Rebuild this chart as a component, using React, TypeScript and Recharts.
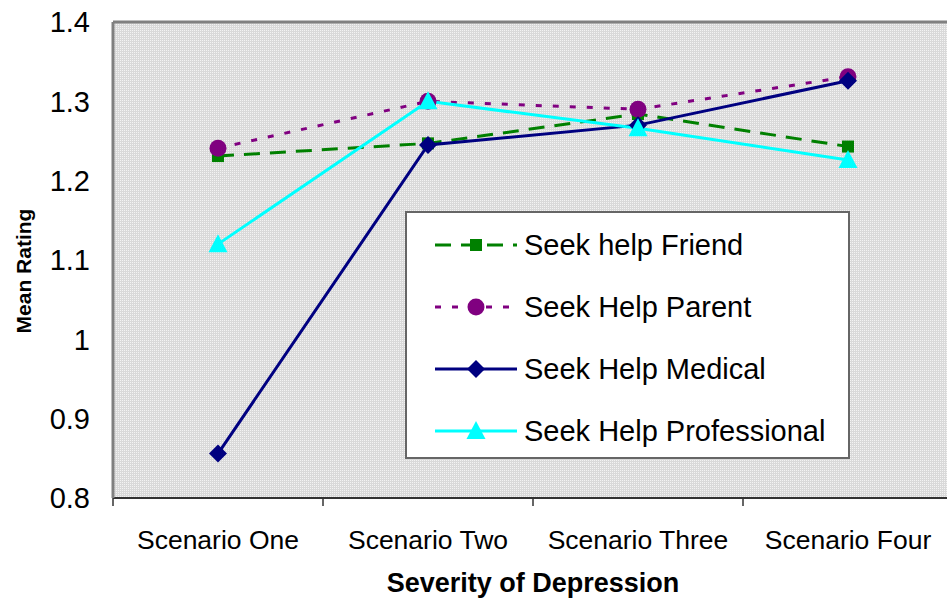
import { CartesianGrid, Line, LineChart, ReferenceLine, XAxis, YAxis } from "recharts";

const categories = ["Scenario One", "Scenario Two", "Scenario Three", "Scenario Four"];
const friend = [1.231, 1.247, 1.284, 1.243];
const parent = [1.241, 1.3, 1.29, 1.331];
const medical = [0.856, 1.245, 1.27, 1.326];
const professional = [1.12, 1.3, 1.266, 1.226];
const yTicks = [0.8, 0.9, 1, 1.1, 1.2, 1.3, 1.4];

const data = categories.map((name, i) => ({
  name,
  friend: friend[i],
  parent: parent[i],
  medical: medical[i],
  professional: professional[i],
}));

const FONT = "Arial, 'Liberation Sans', sans-serif";
const HALF_BAND = 105;

type Mark = "square" | "circle" | "diamond" | "triangle";

const SERIES: { key: string; label: string; color: string; dash?: string; mark: Mark }[] = [
  { key: "friend", label: "Seek help Friend", color: "#008000", dash: "16 10", mark: "square" },
  { key: "parent", label: "Seek Help Parent", color: "#800080", dash: "6 11", mark: "circle" },
  { key: "medical", label: "Seek Help Medical", color: "#000080", mark: "diamond" },
  { key: "professional", label: "Seek Help Professional", color: "#00ffff", mark: "triangle" },
];

function Marker({ cx, cy, mark, color }: { cx: number; cy: number; mark: Mark; color: string }) {
  if (cx == null || cy == null) return null;
  if (mark === "square") return <rect x={cx - 6} y={cy - 6} width={12} height={12} fill={color} />;
  if (mark === "circle") return <circle cx={cx} cy={cy} r={8.5} fill={color} />;
  if (mark === "diamond")
    return <path d={`M${cx},${cy - 9}L${cx + 9},${cy}L${cx},${cy + 9}L${cx - 9},${cy}Z`} fill={color} />;
  return <path d={`M${cx},${cy - 10}L${cx + 9.5},${cy + 8}L${cx - 9.5},${cy + 8}Z`} fill={color} />;
}

function XTick(props: any) {
  const { x, y, payload, index } = props;
  return (
    <g>
      <line x1={x - HALF_BAND} x2={x - HALF_BAND} y1={y - 8} y2={y} stroke="#333" strokeWidth={1.5} />
      {index === categories.length - 1 && (
        <line x1={x + HALF_BAND} x2={x + HALF_BAND} y1={y - 8} y2={y} stroke="#333" strokeWidth={1.5} />
      )}
      <text x={x} y={y + 43} textAnchor="middle" fontSize={26.5} fontFamily={FONT} fill="#000">
        {payload.value}
      </text>
    </g>
  );
}

function LegendBox() {
  return (
    <div
      style={{
        position: "absolute",
        left: 405,
        top: 211,
        background: "#fff",
        border: "2px solid #666",
        boxSizing: "border-box",
        width: 445,
        height: 248,
        paddingTop: 1,
        fontFamily: FONT,
      }}
    >
      {SERIES.map((s) => (
        <div key={s.key} style={{ display: "flex", alignItems: "center", height: 62 }}>
          <svg width={84} height={30} style={{ marginLeft: 28 }}>
            <line x1={0} x2={82} y1={15} y2={15} stroke={s.color} strokeWidth={3} strokeDasharray={s.dash} />
            <Marker cx={41} cy={15} mark={s.mark} color={s.color} />
          </svg>
          <span style={{ fontSize: 29, color: "#000", marginLeft: 5, lineHeight: 1 }}>{s.label}</span>
        </div>
      ))}
    </div>
  );
}

export default function App() {
  return (
    <div style={{ position: "absolute", left: 0, top: 0, width: 947, height: 598, overflow: "hidden", background: "#fff" }}>
      <svg width={0} height={0} style={{ position: "absolute" }}>
        <defs>
          <pattern id="hatch" width={2} height={2} patternUnits="userSpaceOnUse">
            <rect width={2} height={2} fill="#d9d9d9" />
            <rect width={1} height={1} fill="#f3f3f3" />
          </pattern>
        </defs>
      </svg>
      <LineChart width={955} height={598} data={data} margin={{ top: 22, right: 2, bottom: 0, left: 33 }}>
        <CartesianGrid horizontal={false} vertical={false} fill="url(#hatch)" />
        <XAxis
          dataKey="name"
          height={100}
          padding={{ left: HALF_BAND, right: HALF_BAND }}
          axisLine={{ stroke: "#333", strokeWidth: 2 }}
          tickLine={false}
          tick={<XTick />}
          interval={0}
          label={(p: any) => {
            const vb = p.viewBox;
            return (
              <text
                x={vb.x + vb.width / 2}
                y={vb.y + 94}
                textAnchor="middle"
                fontSize={27}
                fontWeight="bold"
                fontFamily={FONT}
                fill="#000"
              >
                Severity of Depression
              </text>
            );
          }}
        />
        <YAxis
          width={80}
          domain={[0.8, 1.4]}
          ticks={yTicks}
          interval={0}
          allowDataOverflow
          axisLine={{ stroke: "#808080", strokeWidth: 3 }}
          tickLine={false}
          tickSize={0}
          tickMargin={23}
          tick={{ fontSize: 29, fill: "#000", fontFamily: FONT }}
          tickFormatter={(v: number) => String(v)}
          label={(p: any) => {
            const vb = p.viewBox;
            const cx = vb.x - 10;
            const cy = vb.y + vb.height / 2 + 11;
            return (
              <text
                x={cx}
                y={cy}
                transform={`rotate(-90 ${cx} ${cy})`}
                textAnchor="middle"
                dominantBaseline="central"
                fontSize={21}
                fontWeight="bold"
                fontFamily={FONT}
                fill="#000"
              >
                Mean Rating
              </text>
            );
          }}
        />
        <ReferenceLine y={1.4} stroke="#808080" strokeWidth={3} />
        {SERIES.map((s) => (
          <Line
            key={s.key}
            dataKey={s.key}
            name={s.label}
            stroke={s.color}
            strokeWidth={3}
            strokeDasharray={s.dash}
            isAnimationActive={false}
            dot={(p: any) => <Marker key={`${s.key}-${p.index}`} cx={p.cx} cy={p.cy} mark={s.mark} color={s.color} />}
            activeDot={false}
          />
        ))}
      </LineChart>
      <LegendBox />
    </div>
  );
}
